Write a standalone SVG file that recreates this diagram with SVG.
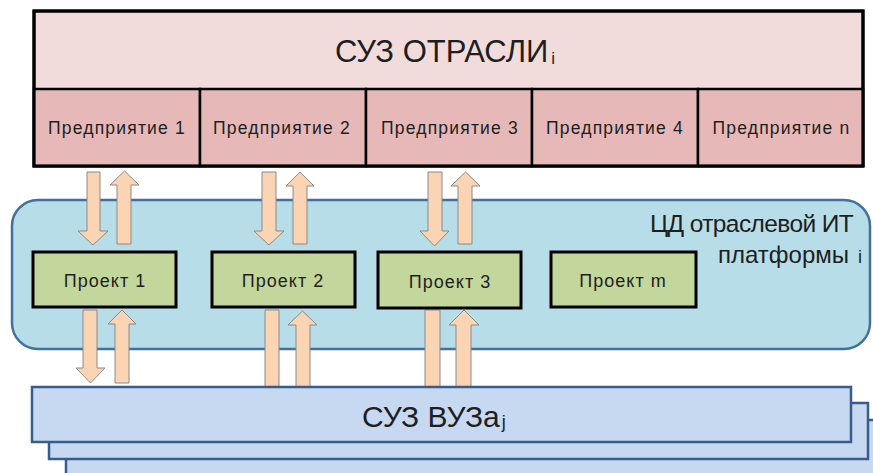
<svg xmlns="http://www.w3.org/2000/svg" width="873" height="473" viewBox="0 0 873 473">
  <style>
    .t{font-family:"Liberation Sans","DejaVu Sans",sans-serif;fill:#1e1e1e}
    .el{font-size:17.5px;letter-spacing:1.2px;text-anchor:middle}
    .pl{font-size:18px;letter-spacing:1px;text-anchor:middle}
    .arrow{fill:#fbd4b4;stroke:#8a8a8a;stroke-width:1}
    .ent{fill:#e6b9b8;stroke:#000;stroke-width:2.5}
    .proj{fill:#c3d69b;stroke:#000;stroke-width:3}
    .vuz{fill:#c6d9f1;stroke:#385d8a;stroke-width:2.5}
  </style>
  <rect width="873" height="473" fill="#ffffff"/>

  <!-- industry system -->
  <g id="suz-industry">
    <rect x="34" y="11" width="829" height="155" fill="#f2dcdb" stroke="#000" stroke-width="3"/>
    <text class="t" x="335" y="62" font-size="31">СУЗ ОТРАСЛИ<tspan font-size="17" dx="3" dy="2">i</tspan></text>
  </g>
  <g id="enterprise-1">
    <rect class="ent" x="34" y="89" width="166" height="77"/>
    <text class="t el" x="117" y="134">Предприятие 1</text>
  </g>
  <g id="enterprise-2">
    <rect class="ent" x="200" y="89" width="166" height="77"/>
    <text class="t el" x="282" y="134">Предприятие 2</text>
  </g>
  <g id="enterprise-3">
    <rect class="ent" x="366" y="89" width="166" height="77"/>
    <text class="t el" x="450" y="134">Предприятие 3</text>
  </g>
  <g id="enterprise-4">
    <rect class="ent" x="532" y="89" width="166" height="77"/>
    <text class="t el" x="615" y="134">Предприятие 4</text>
  </g>
  <g id="enterprise-n">
    <rect class="ent" x="698" y="89" width="165" height="77"/>
    <text class="t el" x="781.5" y="134">Предприятие n</text>
  </g>
  <rect x="34" y="11" width="829" height="155" fill="none" stroke="#000" stroke-width="3"/>

  <!-- digital twin of the industry IT platform -->
  <g id="platform">
    <rect x="12" y="200" width="858" height="149" rx="26" ry="26" fill="#b7dde8" stroke="#41719c" stroke-width="2.5"/>
    <text class="t" x="650" y="232" font-size="24.5" letter-spacing="-0.6">ЦД отраслевой ИТ</text>
    <text class="t" x="718" y="263" font-size="24">платформы<tspan font-size="18" dx="9">i</tspan></text>
  </g>

  <g id="connectors">
    <!-- enterprises <-> projects -->
    <path class="arrow" d="M87 172 H100 V231 H108 L93 245 L78 231 H87 Z"/>
    <path class="arrow" d="M117 244 V185 H110 L124.5 171 L139 185 H131 V244 Z"/>
    <path class="arrow" d="M262 172 H276 V231 H284 L269 245 L254 231 H262 Z"/>
    <path class="arrow" d="M293 244 V186 H286 L300 172 L314 186 H307 V244 Z"/>
    <path class="arrow" d="M428 172 H442 V231 H449 L434.5 246 L420 231 H428 Z"/>
    <path class="arrow" d="M458 244 V186 H451 L465.5 172 L480 186 H472 V244 Z"/>
    <!-- projects <-> universities -->
    <path class="arrow" d="M83 310 H97 V368 H105 L90.5 383 L76 368 H83 Z"/>
    <path class="arrow" d="M115 383 V324 H108 L122 310 L136 324 H129 V383 Z"/>
    <path class="arrow" d="M265 310 H279 V400 H287 L272 415 L257 400 H265 Z"/>
    <path class="arrow" d="M296 395 V325 H288 L302.5 311 L317 325 H310 V395 Z"/>
    <path class="arrow" d="M425 310 H440 V400 H448 L432.5 415 L417 400 H425 Z"/>
    <path class="arrow" d="M456 395 V325 H449 L464 310 L479 325 H471 V395 Z"/>
  </g>

  <g id="project-1">
    <rect class="proj" x="33" y="252" width="143" height="55"/>
    <text class="t pl" x="105" y="287">Проект 1</text>
  </g>
  <g id="project-2">
    <rect class="proj" x="212" y="252" width="143" height="55"/>
    <text class="t pl" x="283" y="287">Проект 2</text>
  </g>
  <g id="project-3">
    <rect class="proj" x="378" y="252" width="143" height="56"/>
    <text class="t pl" x="450" y="288">Проект 3</text>
  </g>
  <g id="project-m">
    <rect class="proj" x="551" y="252" width="145" height="55"/>
    <text class="t pl" x="623" y="287">Проект m</text>
  </g>

  <!-- university systems, stacked -->
  <g id="suz-university">
    <rect class="vuz" x="66" y="420" width="819" height="56"/>
    <rect class="vuz" x="49" y="403" width="819" height="56"/>
    <rect class="vuz" x="32" y="387" width="819" height="55"/>
    <text class="t" x="362" y="427" font-size="30">СУЗ ВУЗа<tspan font-size="18" dx="2" dy="1">j</tspan></text>
  </g>
</svg>
